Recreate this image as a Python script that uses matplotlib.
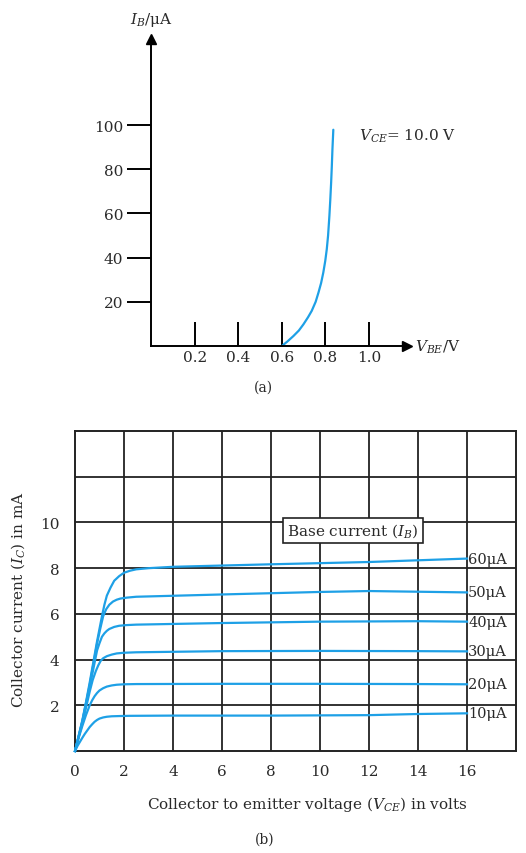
import matplotlib
matplotlib.use("Agg")
import matplotlib.pyplot as plt

plt.rcParams["font.family"] = "DejaVu Serif"
plt.rcParams["mathtext.fontset"] = "dejavuserif"

BLUE = "#1ea0e6"
INK = "#2a2a2a"

# (a) input characteristic, V_BE in V, I_B in uA
vbe = [0.600, 0.625, 0.653, 0.678, 0.699, 0.720, 0.737, 0.755, 0.768, 0.780,
       0.790, 0.799, 0.806, 0.812, 0.818, 0.822, 0.826, 0.829, 0.832, 0.836]
ib = [0.0, 2.0, 4.5, 7.0, 9.8, 13.0, 15.9, 20.0, 24.2, 28.5,
      33.2, 38.5, 43.8, 50.0, 58.9, 66.0, 74.0, 81.0, 89.1, 97.9]
vbe_ticks = [0.2, 0.4, 0.6, 0.8, 1.0]
ib_ticks = [20, 40, 60, 80, 100]

# (b) output characteristics, V_CE in V, I_C in mA
vce = {
    "10": [0, 0.1, 0.2, 0.3, 0.4, 0.5, 0.6, 0.7, 0.8, 0.9, 1.0, 1.15, 1.3, 1.5,
           1.8, 2.2, 4, 8, 12, 14, 16],
    "20": [0, 0.15, 0.3, 0.45, 0.6, 0.7, 0.8, 0.9, 1.0, 1.15, 1.3, 1.5, 1.7,
           2.0, 2.5, 6, 10, 14, 16],
    "30": [0, 0.15, 0.3, 0.45, 0.6, 0.72, 0.85, 0.95, 1.05, 1.15, 1.3, 1.5,
           1.7, 2.0, 2.5, 6, 10, 14, 16],
    "40": [0, 0.15, 0.3, 0.45, 0.6, 0.75, 0.9, 1.0, 1.1, 1.2, 1.3, 1.4, 1.6,
           1.8, 2.1, 2.5, 6, 10, 14, 16],
    "50": [0, 0.15, 0.3, 0.45, 0.6, 0.75, 0.9, 1.03, 1.15, 1.27, 1.4, 1.55,
           1.7, 1.85, 2.1, 2.5, 6, 10, 12, 16],
    "60": [0, 0.15, 0.3, 0.45, 0.6, 0.75, 0.9, 1.0, 1.1, 1.2, 1.3, 1.45, 1.6,
           1.8, 2.0, 2.25, 2.5, 3, 4, 8, 12, 16],
}
ic = {
    "10": [0, 0.22, 0.4, 0.58, 0.75, 0.9, 1.05, 1.17, 1.28, 1.36, 1.42, 1.47,
           1.5, 1.52, 1.53, 1.54, 1.55, 1.55, 1.57, 1.62, 1.65],
    "20": [0, 0.58, 1.1, 1.58, 2.0, 2.22, 2.4, 2.54, 2.65, 2.75, 2.82, 2.87,
           2.9, 2.92, 2.93, 2.94, 2.94, 2.93, 2.92],
    "30": [0, 0.62, 1.2, 1.9, 2.6, 3.1, 3.5, 3.75, 3.95, 4.06, 4.15, 4.22,
           4.27, 4.3, 4.32, 4.37, 4.38, 4.37, 4.36],
    "40": [0, 0.65, 1.3, 2.05, 2.8, 3.6, 4.4, 4.72, 5.0, 5.15, 5.26, 5.34,
           5.43, 5.48, 5.51, 5.53, 5.6, 5.66, 5.68, 5.66],
    "50": [0, 0.65, 1.3, 2.1, 2.9, 3.8, 4.7, 5.35, 5.9, 6.2, 6.4, 6.54, 6.62,
           6.67, 6.71, 6.75, 6.85, 6.96, 7.0, 6.94],
    "60": [0, 0.67, 1.35, 2.15, 3.0, 3.9, 4.8, 5.35, 5.9, 6.4, 6.8, 7.15, 7.45,
           7.65, 7.8, 7.89, 7.95, 8.0, 8.06, 8.17, 8.27, 8.42],
}
vce_ticks = [0, 2, 4, 6, 8, 10, 12, 14, 16]
ic_ticks = [2, 4, 6, 8, 10]

fig = plt.figure(figsize=(5.26, 8.54), dpi=100)

# ---------------------------------------------------------------- (a)
ax = fig.add_axes([0.2871, 0.5937, 0.4867, 0.3595])
ax.set_xlim(0, 1.174)
ax.set_ylim(0, 139)
for s in ("top", "right"):
    ax.spines[s].set_visible(False)
for s in ("left", "bottom"):
    ax.spines[s].set_linewidth(1.4)
    ax.spines[s].set_color("black")
# arrow heads at the ends of the two axes
ax.plot(1.174, 0, ">", color="black", ms=7, clip_on=False)
ax.plot(0, 139, "^", color="black", ms=7, clip_on=False)

ax.plot(vbe, ib, color=BLUE, lw=1.6, solid_capstyle="round")

ax.set_xticks(vbe_ticks)
ax.set_xticklabels([f"{v:.1f}" for v in vbe_ticks])
ax.set_yticks(ib_ticks)
ax.tick_params(axis="x", direction="in", length=17, width=1.4, pad=3,
               labelsize=11, labelcolor=INK)
ax.tick_params(axis="y", direction="out", length=17, width=1.4, pad=3,
               labelsize=11, labelcolor=INK)

ax.text(0, 148, r"$I_B$/μA", ha="center", va="center", fontsize=11, color=INK)
ax.text(1.21, 0, r"$V_{BE}$/V", ha="left", va="center", fontsize=11, color=INK)
ax.text(0.955, 95.6, r"$V_{CE}$= 10.0 V", ha="left", va="center", fontsize=11, color=INK)
fig.text(263 / 526, 1 - 388 / 854, "(a)", ha="center", va="center", fontsize=10, color=INK)

# ---------------------------------------------------------------- (b)
bx = fig.add_axes([0.1426, 0.1194, 0.8384, 0.3747])
bx.set_xlim(0, 18)
bx.set_ylim(0, 14)
for s in bx.spines.values():
    s.set_linewidth(1.4)
    s.set_color("#222222")
for g in range(2, 18, 2):
    bx.axvline(g, color="#222222", lw=1.3, zorder=1)
for g in range(2, 14, 2):
    bx.axhline(g, color="#222222", lw=1.3, zorder=1)

for key in ["10", "20", "30", "40", "50", "60"]:
    bx.plot(vce[key], ic[key], color=BLUE, lw=1.6, zorder=3, clip_on=False)
    bx.text(16.05, ic[key][-1], f"{key}μA", ha="left", va="center",
            fontsize=10.5, color=INK, zorder=4, clip_on=False)

bx.text(11.35, 9.65, r"Base current ($I_B$)", ha="center", va="center",
        fontsize=11, color=INK, zorder=5,
        bbox=dict(boxstyle="square,pad=0.25", fc="white", ec="#222222", lw=1.2))

bx.set_xticks(vce_ticks)
bx.set_yticks(ic_ticks)
bx.tick_params(length=0, labelsize=11, labelcolor=INK)
bx.tick_params(axis="x", pad=9)
bx.tick_params(axis="y", pad=11)

bx.set_ylabel(r"Collector current ($I_C$) in mA", fontsize=11, color=INK)
bx.yaxis.set_label_coords(-0.108, 0.477)
bx.set_xlabel(r"Collector to emitter voltage ($V_{CE}$) in volts", fontsize=11, color=INK)
bx.xaxis.set_label_coords(0.526, -0.135)
fig.text(265 / 526, 1 - 840 / 854, "(b)", ha="center", va="center", fontsize=10, color=INK)

fig.savefig("out.png", dpi=100)
